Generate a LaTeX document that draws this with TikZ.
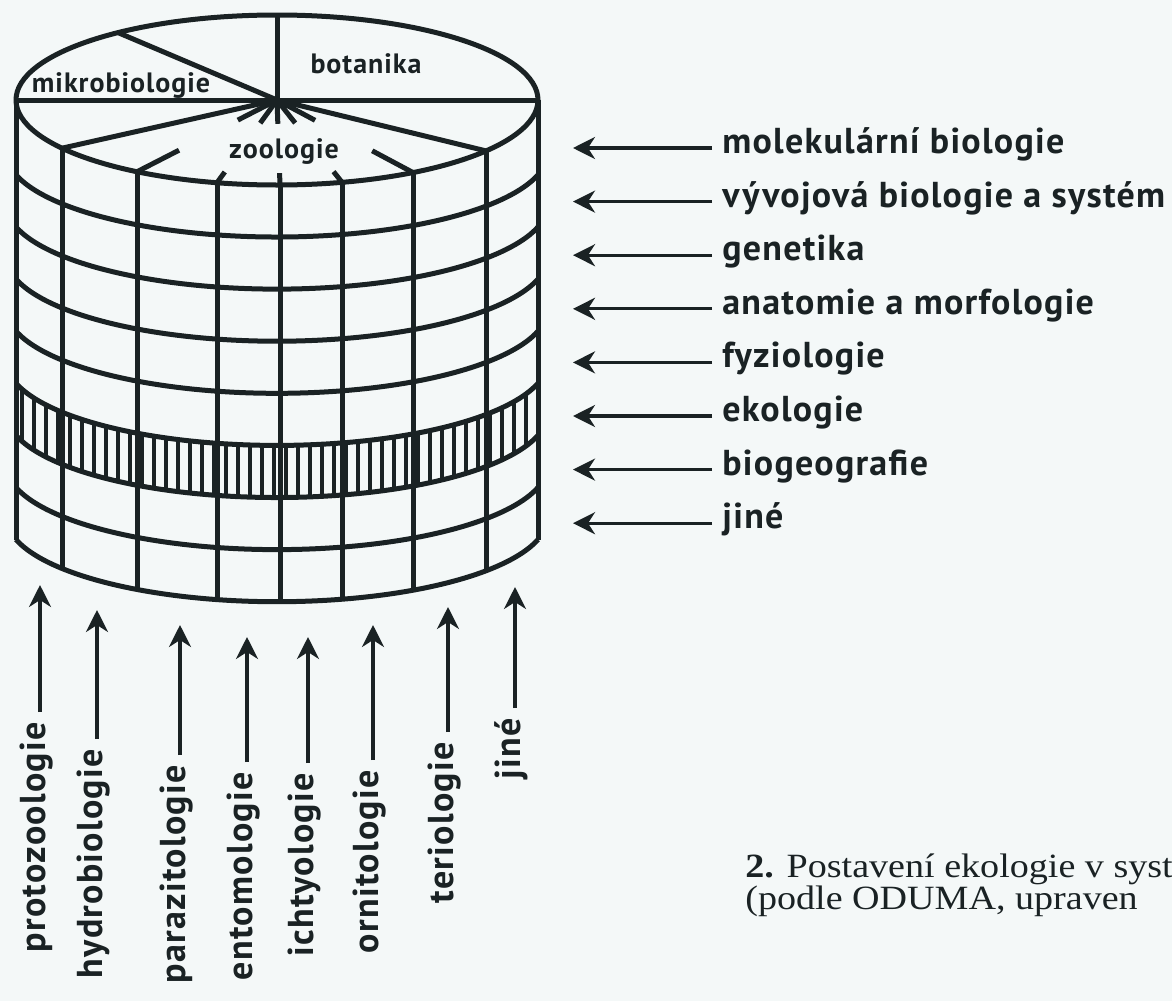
\documentclass[tikz,border=0pt]{standalone}
\usepackage{fontspec}
\setmainfont{Liberation Serif}
\newfontfamily\lblfont[LetterSpace=3.5]{PT Sans}
\newfontfamily\capfont[FakeStretch=1.12]{Liberation Serif}
\usetikzlibrary{arrows.meta,calc}
\definecolor{ink}{HTML}{1A2224}
\definecolor{paper}{HTML}{F4F8F8}

\begin{document}
\begin{tikzpicture}[x=0.5pt,y=-0.5pt,
  rim/.style={draw=ink,line width=2.5pt,line join=round},
  hatch/.style={draw=ink,line width=1.8pt},
  sector/.style={text=ink,inner sep=0pt,font=\lblfont\bfseries\fontsize{14}{16}\selectfont},
  lbl/.style={text=ink,inner sep=0pt,text height=1.6ex,text depth=.4ex,font=\lblfont\bfseries\fontsize{18}{20}\selectfont},
  pointer/.style={draw=ink,line width=1.6pt,shorten <=5pt,-{Stealth[length=11pt,width=11pt,inset=3.5pt]}}]
  \useasboundingbox (0,0) rectangle (1172,1001);
  \fill[paper] (0,0) rectangle (1172,1001);

  \coordinate (c) at (277,100);
  \foreach \x in {22,34,...,532}{
    \pgfmathsetmacro\u{(\x-277)/271}
    \pgfmathsetmacro\ya{360.4+85*sqrt(1-\u*\u)}
    \draw[hatch] (\x,\ya) -- ++(0,52.1);
  }
  \draw[rim] (c) ellipse[x radius=261,y radius=85];
  \draw[rim] (16,100) -- (538,100);
  \draw[rim] (16,100) -- (16,539.7) (538,100) -- (538,539.7);
  \foreach \k in {1,...,8}{
    \pgfmathsetmacro\e{122.9+52.1*\k}
    \draw[rim] ({277+271*cos(164.4)},{\e-23+85*sin(164.4)}) arc[start angle=164.4,end angle=15.6,x radius=271,y radius=85];
  }
  \foreach \x in {62,137,217,280,342,413,486}{
    \pgfmathsetmacro\ya{100+85*sqrt(1-((\x-277)/261)*((\x-277)/261))}
    \pgfmathsetmacro\yb{516.7+85*sqrt(1-((\x-277)/271)*((\x-277)/271))}
    \draw[rim] (\x,\ya) -- (\x,\yb);
  }
  \draw[rim] (c) -- (277,15);
  \draw[rim] (c) -- (118,32.6);
  \draw[rim] (c) -- (62,148.2);
  \draw[rim] (c) -- (486,150.9);
  \foreach \x/\f in {137/0.7,217/0.87,280/0.86,342/0.87,413/0.7}{
    \pgfmathsetmacro\ya{100+85*sqrt(1-((\x-277)/261)*((\x-277)/261))}
    \draw[rim] (c) -- ($(c)!0.28!(\x,\ya)$);
    \draw[rim] ($(c)!\f!(\x,\ya)$) -- (\x,\ya);
  }

  \node[sector] (mikro) at (121,86) {mikrobiologie};
  \node[sector] (bot) at (366,64) {botanika};
  \node[sector,fill=paper,inner sep=2pt] (zoo) at (284,152) {zoologie};

  \node[lbl,anchor=west] (mol) at (722,148) {molekulární biologie};
  \node[lbl,anchor=west] (vyv) at (722,201.6) {vývojová biologie a systém};
  \node[lbl,anchor=west] (gen) at (722,255.2) {genetika};
  \node[lbl,anchor=west] (ana) at (722,308.8) {anatomie a morfologie};
  \node[lbl,anchor=west] (fyz) at (722,362.4) {fyziologie};
  \node[lbl,anchor=west] (eko) at (722,416) {ekologie};
  \node[lbl,anchor=west] (bgr) at (722,469.6) {biogeografie};
  \node[lbl,anchor=west] (jin) at (722,523.2) {jiné};
  \coordinate (mol-t) at (573,148);
  \coordinate (vyv-t) at (573,201.6);
  \coordinate (gen-t) at (573,255.2);
  \coordinate (ana-t) at (573,308.8);
  \coordinate (fyz-t) at (573,362.4);
  \coordinate (eko-t) at (573,416);
  \coordinate (bgr-t) at (573,469.6);
  \coordinate (jin-t) at (573,523.2);
  \draw[pointer] (mol) -- (mol-t); \draw[pointer] (vyv) -- (vyv-t); \draw[pointer] (gen) -- (gen-t); \draw[pointer] (ana) -- (ana-t);
  \draw[pointer] (fyz) -- (fyz-t); \draw[pointer] (eko) -- (eko-t); \draw[pointer] (bgr) -- (bgr-t); \draw[pointer] (jin) -- (jin-t);

  \node[lbl,rotate=90,anchor=east] (pro) at (40,722) {protozoologie};
  \node[lbl,rotate=90,anchor=east] (hyd) at (97,749) {hydrobiologie};
  \node[lbl,rotate=90,anchor=east] (par) at (180,765) {parazitologie};
  \node[lbl,rotate=90,anchor=east] (ent) at (247,772) {entomologie};
  \node[lbl,rotate=90,anchor=east] (ich) at (308,773) {ichtyologie};
  \node[lbl,rotate=90,anchor=east] (orn) at (373,770) {ornitologie};
  \node[lbl,rotate=90,anchor=east] (ter) at (448,742) {teriologie};
  \node[lbl,rotate=90,anchor=east] (oth) at (515,718) {jiné};
  \coordinate (pro-t) at (40,585);
  \coordinate (hyd-t) at (97,610);
  \coordinate (par-t) at (180,625);
  \coordinate (ent-t) at (247,637);
  \coordinate (ich-t) at (308,637);
  \coordinate (orn-t) at (373,625);
  \coordinate (ter-t) at (448,607);
  \coordinate (oth-t) at (515,587);
  \draw[pointer] (pro) -- (pro-t); \draw[pointer] (hyd) -- (hyd-t); \draw[pointer] (par) -- (par-t); \draw[pointer] (ent) -- (ent-t);
  \draw[pointer] (ich) -- (ich-t); \draw[pointer] (orn) -- (orn-t); \draw[pointer] (ter) -- (ter-t); \draw[pointer] (oth) -- (oth-t);

  \node[anchor=west,align=left,text=ink,inner sep=0pt,font=\capfont\fontsize{17}{16}\selectfont] (cap) at (745,885) {\textbf{2.} Postavení ekologie v syst\\(podle ODUMA, upraven};
\end{tikzpicture}
\end{document}
